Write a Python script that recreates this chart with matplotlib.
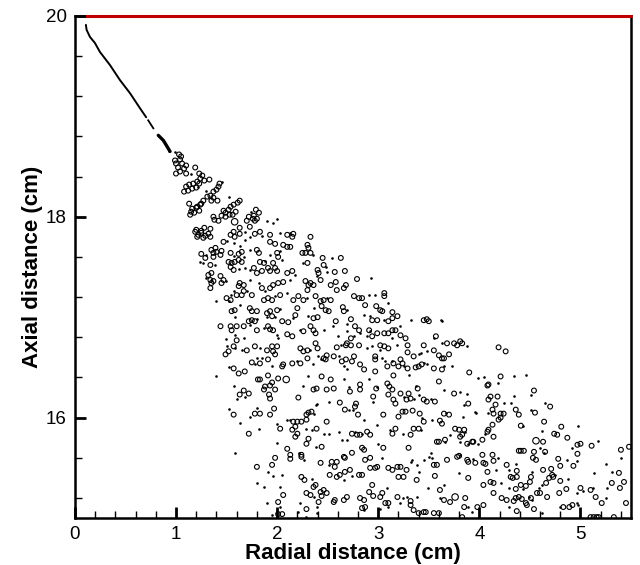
import matplotlib
matplotlib.use('Agg')
import matplotlib.pyplot as plt
from matplotlib.ticker import MultipleLocator

plt.rcParams['font.family'] = ['Liberation Sans', 'DejaVu Sans']

# liquid core / near-nozzle trajectory (cm)
jet_x = [0.109, 0.116, 0.149, 0.198, 0.248, 0.347, 0.446, 0.545, 0.644, 0.705]
jet_y = [19.91, 19.86, 19.79, 19.73, 19.64, 19.51, 19.36, 19.23, 19.08, 18.99]
jet2_x = [0.725, 0.776]
jet2_y = [18.96, 18.88]
jet3_x = [0.825, 0.875, 0.941]
jet3_y = [18.81, 18.76, 18.65]

# droplet parcels (radial cm, axial cm)
circles = [
    # dense region near break-up
    (1.05, 18.60), (1.04, 18.57), (1.00, 18.53), (1.06, 18.53), (1.10, 18.51), (1.02, 18.49),
    (1.08, 18.48), (1.04, 18.45), (1.00, 18.43), (1.10, 18.43), (0.99, 18.56), (1.03, 18.62),
    (1.19, 18.49), (1.23, 18.43), (1.26, 18.41), (1.24, 18.38), (1.21, 18.35), (1.28, 18.36),
    (1.17, 18.33), (1.13, 18.32), (1.23, 18.33), (1.10, 18.30), (1.08, 18.25), (1.12, 18.26),
    (1.16, 18.28), (1.20, 18.29), (1.33, 18.37), (1.43, 18.33), (1.42, 18.30), (1.40, 18.27),
    (1.37, 18.25), (1.34, 18.21), (1.31, 18.20), (1.37, 18.19), (1.41, 18.16), (1.35, 18.16),
    (1.27, 18.16), (1.25, 18.13), (1.13, 18.13), (1.16, 18.08), (1.20, 18.09), (1.18, 18.04),
    (1.14, 18.02), (1.23, 18.06), (1.21, 18.10), (1.24, 18.12), (1.15, 18.05), (1.63, 18.16),
    (1.61, 18.14), (1.57, 18.12), (1.54, 18.10), (1.52, 18.07), (1.49, 18.04), (1.47, 18.06),
    (1.45, 18.01), (1.49, 18.00), (1.42, 17.96), (1.38, 17.97), (1.37, 18.00), (1.59, 18.05),
    (1.56, 18.02), (1.53, 18.02), (1.79, 18.07), (1.82, 18.04), (1.77, 18.01), (1.72, 18.00),
    (1.70, 17.96), (1.78, 17.96), (1.76, 17.98), (1.80, 17.98), (1.20, 17.87), (1.28, 17.89),
    (1.34, 17.88), (1.25, 17.86), (1.63, 17.89), (1.73, 17.90),
    # upper cloud
    (1.19, 17.85), (1.22, 17.82), (1.25, 17.84), (1.29, 17.81), (1.32, 17.83), (1.34, 17.80),
    (1.21, 17.80), (1.27, 17.79), (1.54, 17.82), (1.57, 17.85), (1.58, 17.80), (1.63, 17.83),
    (1.78, 17.83), (1.83, 17.85), (1.93, 17.82), (2.10, 17.82), (2.16, 17.83), (2.15, 17.80),
    (1.47, 17.75), (1.93, 17.75), (1.98, 17.73), (2.06, 17.72), (2.10, 17.70), (2.13, 17.70),
    (1.25, 17.63), (1.35, 17.67), (1.37, 17.64), (1.39, 17.69), (1.40, 17.65), (1.44, 17.62),
    (1.45, 17.66), (1.37, 17.60), (1.29, 17.59), (1.54, 17.64), (1.62, 17.63), (1.65, 17.65),
    (1.80, 17.67), (1.82, 17.64), (1.83, 17.55), (1.87, 17.54), (2.00, 17.64), (2.01, 17.60),
    (1.96, 17.54), (1.98, 17.49), (2.00, 17.46), (1.34, 17.52), (1.52, 17.55), (1.55, 17.54),
    (1.58, 17.55), (1.62, 17.57), (1.65, 17.55), (1.54, 17.50), (1.57, 17.47), (1.77, 17.49),
    (1.80, 17.44), (1.85, 17.46), (1.91, 17.49), (1.93, 17.46), (2.10, 17.44), (2.15, 17.46),
    (1.32, 17.42), (1.35, 17.44), (1.34, 17.37), (1.37, 17.36), (1.35, 17.34), (1.44, 17.41),
    (1.47, 17.37), (1.45, 17.34), (1.63, 17.34), (1.62, 17.31), (1.67, 17.32), (1.85, 17.29),
    (1.93, 17.29), (1.96, 17.32), (2.01, 17.34), (2.06, 17.35), (1.34, 17.29), (1.60, 17.22),
    (1.65, 17.22), (1.67, 17.26), (1.50, 17.19), (1.54, 17.17), (1.75, 17.22), (1.87, 17.17),
    (1.91, 17.19), (1.95, 17.17), (2.03, 17.22), (2.16, 17.17), (2.21, 17.21), (1.55, 17.06),
    (1.58, 17.07), (1.73, 17.09), (1.75, 17.06), (1.80, 17.06), (1.90, 17.04), (1.93, 17.06),
    (1.95, 17.01), (2.00, 17.07), (1.72, 16.96), (1.75, 16.97), (1.78, 16.96), (2.05, 16.96),
    (2.11, 16.95), (2.18, 17.02), (2.20, 17.09), (1.44, 16.91), (1.54, 16.91), (1.55, 16.87),
    (1.60, 16.91), (1.67, 16.91), (1.80, 16.87), (1.91, 16.91), (1.93, 16.88), (1.96, 16.87),
    (2.10, 16.83), (2.15, 16.81), (1.60, 16.77), (1.57, 16.71), (1.52, 16.66), (1.49, 16.63),
    (1.70, 16.67), (1.78, 16.71), (1.90, 16.67), (1.95, 16.71), (2.00, 16.71), (1.96, 16.66),
    (1.98, 16.63), (1.91, 16.58), (1.75, 16.55), (1.83, 16.54), (2.05, 16.51), (2.06, 16.53),
    (2.15, 16.54), (1.57, 16.49), (1.62, 16.44), (1.68, 16.46),
    # middle of the cloud
    (2.33, 17.80), (2.30, 17.72), (2.31, 17.69), (2.28, 17.64), (2.33, 17.64), (2.25, 17.64),
    (2.30, 17.54), (2.45, 17.59), (2.63, 17.59), (2.46, 17.52), (2.40, 17.47), (2.41, 17.44),
    (2.57, 17.45), (2.67, 17.46), (2.28, 17.36), (2.33, 17.34), (2.31, 17.32), (2.30, 17.27),
    (2.36, 17.32), (2.43, 17.37), (2.53, 17.32), (2.58, 17.35), (2.59, 17.27), (2.68, 17.32),
    (2.66, 17.29), (2.79, 17.38), (2.26, 17.17), (2.38, 17.21), (2.43, 17.16), (2.46, 17.17),
    (2.53, 17.17), (2.44, 17.11), (2.48, 17.07), (2.51, 17.06), (2.40, 17.00), (2.36, 16.99),
    (2.58, 16.96), (2.65, 17.10), (2.66, 17.06), (2.76, 17.21), (2.81, 17.19), (2.84, 17.19),
    (2.87, 17.12), (3.06, 17.24), (3.06, 17.21), (2.98, 17.11), (3.02, 17.07), (3.04, 17.06),
    (3.14, 17.05), (3.19, 17.01), (2.94, 16.97), (2.99, 16.97), (2.73, 16.98), (2.77, 16.91),
    (2.81, 16.87), (2.36, 16.87), (2.33, 16.91), (2.38, 16.84), (2.26, 16.86), (3.10, 16.96),
    (3.14, 16.99), (3.06, 16.84), (3.10, 16.84), (3.14, 16.87), (3.17, 16.87), (3.22, 16.82),
    (3.45, 16.97), (3.48, 16.98), (3.50, 16.96), (3.27, 16.79), (2.91, 16.87), (2.99, 16.84),
    (2.94, 16.81), (2.73, 16.79), (2.69, 16.74), (2.68, 16.72), (2.73, 16.72), (2.59, 16.70),
    (2.56, 16.61), (2.49, 16.62), (2.46, 16.59), (2.48, 16.58), (2.23, 16.54), (2.30, 16.59),
    (2.26, 16.66), (2.30, 16.67), (2.40, 16.69), (2.38, 16.74), (2.23, 16.69), (2.81, 16.72),
    (3.02, 16.72), (3.06, 16.71), (3.10, 16.69), (3.29, 16.72), (3.29, 16.65), (3.35, 16.61),
    (3.55, 16.67), (3.60, 16.62), (3.63, 16.59), (3.65, 16.59), (3.70, 16.63), (3.75, 16.74),
    (3.78, 16.72), (3.81, 16.76), (3.83, 16.74), (3.57, 16.81), (3.68, 16.74), (3.45, 16.72),
    (2.97, 16.61), (2.97, 16.58), (3.15, 16.54), (3.22, 16.58), (3.24, 16.54), (3.20, 16.51),
    (3.29, 16.49), (3.37, 16.50), (3.40, 16.51), (3.43, 16.53), (3.55, 16.49), (3.63, 16.48),
    (3.90, 16.45), (2.86, 16.48), (2.82, 16.53), (2.74, 16.56), (2.76, 16.61), (2.68, 16.58),
    (2.64, 16.56), (2.97, 16.46), (3.09, 16.51), (4.19, 16.70), (4.26, 16.66),
    # lower left
    (1.81, 16.38), (1.83, 16.38), (1.91, 16.42), (1.95, 16.35), (2.01, 16.39), (2.44, 16.41),
    (2.53, 16.38), (1.88, 16.31), (1.87, 16.28), (1.93, 16.32), (1.98, 16.28), (1.67, 16.27),
    (1.72, 16.24), (1.63, 16.23), (1.92, 16.23), (1.93, 16.19), (2.21, 16.20), (2.36, 16.28),
    (2.39, 16.29), (2.49, 16.28), (2.56, 16.29), (1.57, 16.03), (1.78, 16.04), (1.83, 16.04),
    (1.93, 16.03), (1.97, 16.09), (2.03, 15.89), (2.16, 15.96), (2.20, 15.96), (2.24, 15.96),
    (2.29, 15.98), (2.29, 16.03), (2.31, 16.05), (2.34, 16.06), (2.15, 15.88), (2.18, 15.91),
    (2.20, 15.84), (2.18, 15.81), (1.72, 15.84), (2.39, 15.89), (2.31, 15.79), (2.29, 15.74),
    (2.44, 15.71), (2.49, 15.96), (2.10, 15.69), (2.13, 15.63), (2.13, 15.59), (2.24, 15.63),
    (2.24, 15.61), (1.98, 15.60), (1.80, 15.51), (1.95, 15.53), (2.24, 15.41), (2.27, 15.38),
    (2.43, 15.55), (2.54, 15.56), (2.52, 15.43), (2.06, 15.23), (2.29, 15.25), (2.33, 15.23),
    (2.38, 15.33), (2.36, 15.31), (2.43, 15.26), (2.46, 15.28), (2.44, 15.22), (2.49, 15.25),
    (2.56, 15.16), (2.41, 15.16), (2.01, 15.16), (2.01, 15.04), (2.05, 15.04), (2.29, 15.09),
    # lower middle
    (2.82, 16.33), (2.72, 16.26), (2.82, 16.28), (2.98, 16.29), (3.09, 16.34), (3.11, 16.31),
    (3.14, 16.28), (3.10, 16.23), (3.15, 16.42), (3.39, 16.29), (3.45, 16.18), (3.48, 16.16),
    (3.56, 16.16), (3.60, 16.36), (3.75, 16.24), (3.89, 16.14), (2.62, 16.15), (2.67, 16.08),
    (2.78, 16.14), (2.77, 16.11), (2.80, 16.03), (2.95, 16.21), (3.15, 16.18), (3.17, 16.14),
    (3.22, 16.24), (3.30, 16.24), (3.28, 16.18), (3.32, 16.19), (3.05, 16.03), (3.20, 16.01),
    (3.24, 16.06), (3.27, 16.06), (3.34, 16.07), (3.41, 16.04), (3.45, 15.96), (3.61, 15.97),
    (3.63, 15.94), (3.65, 16.04), (3.70, 16.03), (3.17, 15.89), (3.32, 15.83), (3.35, 15.89),
    (3.40, 15.89), (3.14, 15.84), (2.74, 15.84), (2.79, 15.83), (2.82, 15.83), (2.89, 15.86),
    (2.92, 15.83), (3.05, 15.70), (3.30, 15.70), (3.58, 15.76), (3.60, 15.76), (3.66, 15.78),
    (3.76, 15.89), (3.80, 15.88), (3.85, 15.88), (3.83, 15.83), (3.81, 15.81), (3.88, 15.74),
    (3.93, 15.76), (3.94, 15.76), (2.84, 15.70), (2.86, 15.68), (2.92, 15.60), (2.87, 15.58),
    (2.74, 15.65), (2.66, 15.61), (2.67, 15.60), (2.59, 15.56), (2.57, 15.51), (2.72, 15.48),
    (2.67, 15.46), (2.62, 15.43), (2.59, 15.41), (2.81, 15.43), (2.84, 15.43), (2.92, 15.50),
    (2.97, 15.50), (2.99, 15.51), (3.10, 15.50), (3.14, 15.48), (3.19, 15.51), (3.22, 15.51),
    (3.20, 15.41), (3.25, 15.41), (3.28, 15.48), (3.38, 15.38), (3.55, 15.53), (3.58, 15.53),
    (3.68, 15.58), (3.78, 15.61), (3.80, 15.62), (3.88, 15.58), (3.89, 15.56), (3.96, 15.55),
    (3.89, 15.40), (3.56, 15.42), (3.61, 15.28), (2.94, 15.33), (3.04, 15.25), (2.91, 15.26),
    (2.95, 15.22), (2.86, 15.18), (2.82, 15.20), (2.69, 15.21), (2.66, 15.18), (2.57, 15.18),
    (3.02, 15.21), (3.19, 15.21), (3.32, 15.17), (3.10, 15.15), (3.07, 15.15), (3.32, 15.13),
    (2.87, 15.11), (2.84, 15.10), (3.35, 15.08), (3.40, 15.05), (3.45, 15.06), (3.47, 15.06),
    (3.55, 15.05), (3.60, 15.05), (3.86, 15.20), (3.85, 15.11), (3.83, 15.01), (3.71, 15.16),
    (3.65, 15.18), (3.98, 15.11),
    # lower right
    (4.21, 16.41), (4.08, 16.32), (4.09, 16.33), (4.54, 16.27), (4.11, 16.21), (4.09, 16.18),
    (4.18, 16.21), (4.16, 16.13), (4.14, 16.04), (4.13, 16.08), (4.21, 16.04), (4.24, 16.04),
    (4.19, 15.98), (4.21, 16.00), (4.36, 16.08), (4.39, 16.03), (4.55, 16.05), (4.70, 16.11),
    (4.64, 15.96), (4.41, 15.92), (4.13, 15.93), (4.08, 15.86), (4.09, 15.88), (4.14, 15.81),
    (4.03, 15.78), (4.81, 15.91), (4.74, 15.84), (4.77, 15.83), (4.87, 15.80), (4.63, 15.76),
    (4.97, 15.73), (5.00, 15.74), (4.65, 15.66), (5.11, 15.72), (4.39, 15.67), (4.41, 15.67),
    (4.44, 15.67), (4.54, 15.66), (5.40, 15.68), (5.48, 15.71), (4.03, 15.63), (4.13, 15.63),
    (4.14, 15.57), (4.04, 15.55), (4.06, 15.54), (4.27, 15.53), (4.53, 15.60), (4.56, 15.58),
    (4.78, 15.59), (4.97, 15.64), (4.63, 15.48), (4.71, 15.49), (4.72, 15.43), (4.80, 15.52),
    (4.08, 15.46), (4.37, 15.47), (4.69, 15.40), (4.73, 15.41), (4.93, 15.52), (5.38, 15.45),
    (4.04, 15.33), (4.11, 15.36), (4.14, 15.35), (4.31, 15.41), (4.33, 15.40), (4.37, 15.41),
    (4.36, 15.29), (4.41, 15.33), (4.46, 15.32), (4.51, 15.41), (4.50, 15.36), (4.66, 15.35),
    (4.80, 15.37), (4.86, 15.29), (5.00, 15.30), (5.10, 15.28), (5.31, 15.35), (5.39, 15.30),
    (5.43, 15.36), (4.14, 15.25), (4.22, 15.20), (4.27, 15.18), (4.34, 15.17), (4.36, 15.20),
    (4.39, 15.21), (4.42, 15.19), (4.51, 15.20), (4.57, 15.25), (4.60, 15.25), (4.67, 15.21),
    (4.79, 15.25), (5.15, 15.21), (5.21, 15.15), (5.45, 15.15), (4.46, 15.15), (4.47, 15.13),
    (4.54, 15.09), (4.37, 15.07), (4.04, 15.13), (4.83, 15.11), (4.89, 15.11), (4.92, 15.13),
    (5.10, 15.01), (5.13, 15.01), (5.16, 15.01), (5.18, 15.01), (5.33, 15.01),
]

big_circles = [
    (1.58, 17.95), (2.09, 16.38), (3.76, 15.21), (4.56, 15.77),
]

dots = [
    (0.93, 18.65), (0.99, 18.64), (1.15, 18.43), (1.30, 18.26), (1.22, 18.30), (1.52, 18.20),
    (1.45, 18.35), (1.74, 18.05), (1.90, 17.96), (2.00, 17.98), (1.96, 17.94),
    (1.68, 17.85), (1.73, 17.80), (1.85, 17.81), (2.03, 17.84), (2.13, 17.84), (1.50, 17.76),
    (1.57, 17.74), (1.63, 17.71), (1.68, 17.77), (1.30, 17.62), (1.57, 17.61), (1.67, 17.60),
    (1.73, 17.67), (1.88, 17.56), (1.93, 17.62), (2.03, 17.66), (2.05, 17.57), (1.24, 17.55),
    (1.27, 17.54), (1.39, 17.52), (1.62, 17.48), (1.68, 17.49), (1.73, 17.47), (2.18, 17.42),
    (1.30, 17.39), (1.49, 17.36), (1.73, 17.37), (1.82, 17.34), (1.88, 17.26), (2.13, 17.37),
    (1.57, 17.26), (1.54, 17.22), (1.70, 17.26), (1.52, 17.16), (1.40, 17.16), (1.98, 17.21),
    (2.10, 17.24), (1.63, 17.12), (2.03, 17.08), (1.98, 17.00), (1.58, 17.00), (1.80, 16.98),
    (1.90, 17.00), (2.16, 16.99), (1.73, 16.92), (1.87, 16.89), (2.00, 16.82), (2.01, 16.79),
    (1.58, 16.82), (1.67, 16.79), (1.49, 16.78), (1.50, 16.71), (1.58, 16.69), (1.65, 16.67),
    (1.83, 16.69), (1.80, 16.59), (1.85, 16.59), (1.78, 16.53), (1.95, 16.51), (2.20, 16.56),
    (1.52, 16.50),
    (2.35, 17.62), (2.26, 17.54), (2.54, 17.59), (2.48, 17.50), (2.49, 17.45), (2.39, 17.41),
    (2.93, 17.39), (2.30, 17.19), (2.49, 17.19), (2.36, 17.09), (2.31, 17.01), (2.55, 16.91),
    (2.69, 17.07), (2.91, 17.22), (2.97, 17.22), (3.10, 17.14), (2.86, 17.02), (2.92, 17.01),
    (2.69, 16.93), (2.69, 16.86), (2.60, 16.81), (2.46, 16.87), (2.23, 16.87), (3.06, 16.97),
    (3.22, 16.91), (3.32, 16.97), (3.62, 16.97), (3.63, 16.96), (2.92, 16.86), (2.89, 16.81),
    (2.82, 16.84), (2.76, 16.81), (2.63, 16.72), (2.43, 16.58), (2.40, 16.61), (2.35, 16.53),
    (2.33, 16.67), (2.89, 16.69), (2.94, 16.71), (3.14, 16.79), (3.19, 16.72), (3.40, 16.63),
    (3.42, 16.64), (3.48, 16.66), (3.88, 16.71), (3.55, 16.79), (3.63, 16.74), (3.02, 16.67),
    (3.04, 16.59), (3.07, 16.56), (3.14, 16.56), (3.25, 16.51), (3.45, 16.54), (3.48, 16.53),
    (3.65, 16.51), (3.73, 16.51), (2.61, 16.61), (2.66, 16.51), (2.69, 16.48),
    (1.40, 16.41), (2.31, 16.41), (1.57, 16.32), (1.60, 16.19), (1.68, 16.21), (2.26, 16.32),
    (2.39, 16.14), (2.38, 16.13), (2.51, 16.16), (1.52, 16.09), (1.80, 16.10), (1.73, 16.01),
    (1.63, 15.95), (2.00, 15.94), (2.10, 15.98), (2.13, 15.98), (2.36, 16.04), (1.82, 15.89),
    (2.00, 15.75), (2.29, 15.89), (2.34, 15.88), (2.38, 15.71), (2.51, 15.84), (2.46, 15.84),
    (1.58, 15.65), (2.22, 15.65), (2.27, 15.58), (1.91, 15.46), (1.96, 15.42), (2.05, 15.43),
    (2.34, 15.39), (2.51, 15.53), (1.80, 15.35), (1.87, 15.31), (2.03, 15.31), (2.36, 15.21),
    (1.90, 15.15), (2.03, 15.11), (1.95, 15.03), (2.21, 15.06), (2.23, 15.15), (2.29, 15.01),
    (2.39, 15.05), (2.39, 15.11),
    (2.66, 16.38), (2.71, 16.31), (2.91, 16.38), (2.99, 16.31), (3.30, 16.42), (3.37, 16.32),
    (3.40, 16.23), (3.52, 16.19), (3.65, 16.28), (3.81, 16.26), (3.99, 16.39), (3.88, 16.24),
    (3.85, 16.13), (3.97, 16.05), (2.71, 16.08), (2.75, 16.08), (2.86, 15.98), (2.95, 16.16),
    (3.25, 16.21), (3.35, 16.19), (3.43, 16.00), (3.53, 15.98), (3.67, 16.05), (3.84, 16.01),
    (3.96, 16.06), (2.99, 15.93), (3.12, 15.88), (3.24, 15.84), (3.42, 15.88), (2.61, 15.86),
    (2.64, 15.78), (2.69, 15.78), (2.77, 15.86), (2.84, 15.84), (3.00, 15.74), (3.52, 15.65),
    (3.50, 15.61), (3.66, 15.76), (3.71, 15.83), (3.86, 15.86), (3.81, 15.76), (3.89, 15.74),
    (3.99, 15.74), (2.66, 15.38), (2.74, 15.42), (3.04, 15.60), (3.33, 15.58), (3.32, 15.56),
    (3.38, 15.53), (3.40, 15.46), (3.45, 15.58), (3.53, 15.60), (3.81, 15.63), (3.94, 15.59),
    (3.80, 15.45), (3.65, 15.33), (3.49, 15.30), (3.09, 15.30), (3.24, 15.20), (3.28, 15.21),
    (3.38, 15.21), (3.22, 15.15), (2.86, 15.08), (3.02, 15.09), (3.10, 15.11), (3.89, 15.11),
    (3.61, 15.20), (3.93, 15.06),
    (4.05, 16.40), (4.34, 16.41), (4.46, 16.42), (4.18, 16.34), (4.34, 16.22), (4.51, 16.23),
    (4.24, 16.15), (4.31, 16.15), (4.09, 16.05), (4.51, 16.08), (4.65, 16.15), (4.43, 15.92),
    (4.06, 15.84), (4.62, 15.87), (4.98, 15.92), (5.17, 15.77), (4.60, 15.70), (4.64, 15.65),
    (4.92, 15.70), (4.18, 15.60), (4.36, 15.54), (4.87, 15.58), (4.97, 15.57), (5.40, 15.60),
    (4.16, 15.48), (4.29, 15.48), (4.52, 15.46), (4.75, 15.43), (4.88, 15.39), (5.13, 15.45),
    (5.25, 15.54), (5.31, 15.46), (4.21, 15.35), (4.29, 15.30), (4.43, 15.29), (4.59, 15.30),
    (4.62, 15.33), (5.02, 15.27), (5.12, 15.30), (5.26, 15.30), (4.49, 15.21), (4.52, 15.18),
    (4.97, 15.25), (5.25, 15.20), (4.29, 15.11), (4.80, 15.11), (4.97, 15.15), (4.98, 15.13),
    (4.62, 15.05),
]

fig, ax = plt.subplots(figsize=(6.4, 5.65), dpi=100)
fig.subplots_adjust(left=0.117, right=0.986, top=0.972, bottom=0.083)

# near-nozzle parcels look like a continuous line
ax.plot(jet_x, jet_y, color='black', lw=1.4, solid_capstyle='round')
ax.plot(jet2_x, jet2_y, color='black', lw=1.3)
ax.plot(jet3_x, jet3_y, color='black', lw=2.4, solid_capstyle='round')

cx, cy = zip(*circles)
ax.scatter(cx, cy, s=12, facecolors='none', edgecolors='black', linewidths=0.8)
bx, by = zip(*big_circles)
ax.scatter(bx, by, s=22, facecolors='none', edgecolors='black', linewidths=0.8)
dx, dy = zip(*dots)
ax.scatter(dx, dy, s=3.5, color='black', linewidths=0)

# top boundary
ax.plot([0.12, 5.5], [20, 20], color='#c00000', lw=2.2, clip_on=False, zorder=5)

ax.set_xlim(0, 5.5)
ax.set_ylim(15, 20)
ax.xaxis.set_major_locator(MultipleLocator(1))
ax.xaxis.set_minor_locator(MultipleLocator(0.2))
ax.yaxis.set_major_locator(MultipleLocator(2))
ax.yaxis.set_minor_locator(MultipleLocator(0.4))
ax.tick_params(which='both', direction='in', top=False, right=False,
               labelsize=13.5, width=1.2, pad=6)
ax.tick_params(which='major', length=8, width=2)
ax.tick_params(which='minor', length=5, width=1)
for sp in ax.spines.values():
    sp.set_linewidth(1.8)

ax.set_xlabel('Radial distance (cm)', fontsize=16, fontweight='bold', labelpad=0)
ax.set_ylabel('Axial distance (cm)', fontsize=16, fontweight='bold', labelpad=2)

fig.savefig('out.png', dpi=100)
